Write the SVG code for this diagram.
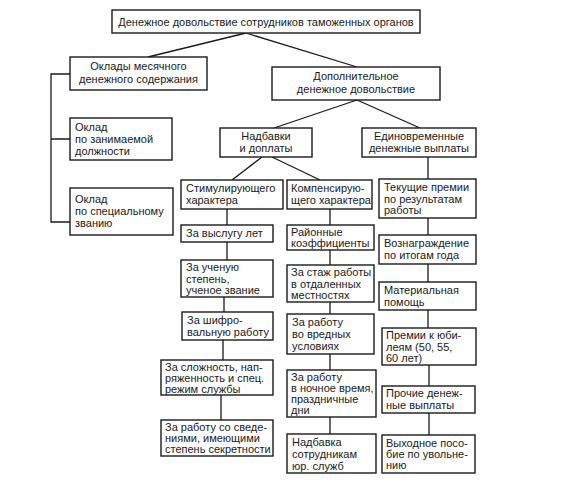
<svg xmlns="http://www.w3.org/2000/svg" width="567" height="481" viewBox="0 0 567 481">
<style>
rect{fill:#fff;stroke:#1a1a1a;stroke-width:1.4}
text{font-family:"Liberation Sans",Arial,sans-serif;font-size:11px;fill:#1a1a1a}
.c{text-anchor:middle}
#connectors path{fill:none;stroke:#1a1a1a;stroke-width:1.3}
</style>
<rect x="0" y="0" width="567" height="481" style="fill:#fff;stroke:none"/>
<g id="connectors">
<path d="M246,33 L148,57 M246,33 L357,67"/>
<path d="M357,100 L274,128 M357,100 L420,128"/>
<path d="M262,157 L232,180 M272,157 L320,180"/>
<path d="M70,74 H51 V222 H70 M51,139 H70"/>
<path d="M227,209 V225 M227,242 V260 M224,297 V312 M223,340 V360 M221,395 V420"/>
<path d="M330,209 V225 M330,250 V265 M330,302 V314 M330,354 V370 M330,417 V434"/>
<path d="M428,157 V179 M428,218 V235 M428,264 V282 M428,310 V328 M429,365 V386 M429,413 V435"/>
</g>
<g id="n-title"><rect x="112" y="10" width="308" height="23"/><text class="c" x="266" y="26">Денежное довольствие сотрудников таможенных органов</text></g>
<g id="n-oklady"><rect x="70" y="57" width="137" height="33"/><text class="c" x="138.5" y="70">Оклады месячного</text><text class="c" x="138.5" y="83">денежного содержания</text></g>
<g id="n-oklad1"><rect x="70" y="118" width="102" height="42"/><text x="75" y="131">Оклад</text><text x="75" y="143">по занимаемой</text><text x="75" y="155">должности</text></g>
<g id="n-oklad2"><rect x="70" y="188" width="103" height="47"/><text x="75" y="203">Оклад</text><text x="75" y="215">по специальному</text><text x="75" y="227">званию</text></g>
<g id="n-dop"><rect x="272" y="67" width="168" height="33"/><text class="c" x="356" y="80">Дополнительное</text><text class="c" x="356" y="93">денежное довольствие</text></g>
<g id="n-nadb"><rect x="220" y="128" width="92" height="29"/><text class="c" x="266" y="140">Надбавки</text><text class="c" x="266" y="152">и доплаты</text></g>
<g id="n-edin"><rect x="362" y="128" width="114" height="29"/><text class="c" x="419" y="140">Единовременные</text><text class="c" x="419" y="152">денежные выплаты</text></g>
<g id="n-stim"><rect x="181" y="180" width="102" height="29"/><text x="186" y="192">Стимулирующего</text><text x="186" y="204">характера</text></g>
<g id="n-vysl"><rect x="181" y="225" width="92" height="17"/><text x="186" y="237">За выслугу лет</text></g>
<g id="n-uch"><rect x="181" y="260" width="92" height="37"/><text x="186" y="271">За ученую</text><text x="186" y="283">степень,</text><text x="186" y="294">ученое звание</text></g>
<g id="n-shifr"><rect x="182" y="312" width="91" height="28"/><text x="187" y="324">За шифро-</text><text x="187" y="336">вальную работу</text></g>
<g id="n-slozh"><rect x="161" y="360" width="112" height="35"/><text x="165" y="371">За сложность, нап-</text><text x="165" y="382">ряженность и спец.</text><text x="165" y="393">режим службы</text></g>
<g id="n-sved"><rect x="161" y="420" width="112" height="36"/><text x="165" y="431">За работу со сведе-</text><text x="165" y="442">ниями, имеющими</text><text x="165" y="453">степень секретности</text></g>
<g id="n-komp"><rect x="287" y="180" width="85" height="29"/><text x="291" y="192">Компенсирую-</text><text x="291" y="204">щего характера</text></g>
<g id="n-rai"><rect x="287" y="225" width="87" height="25"/><text x="291" y="236">Районные</text><text x="291" y="247">коэффициенты</text></g>
<g id="n-stazh"><rect x="287" y="265" width="87" height="37"/><text x="291" y="276">За стаж работы</text><text x="291" y="288">в отдаленных</text><text x="291" y="299">местностях</text></g>
<g id="n-vred"><rect x="287" y="314" width="87" height="40"/><text x="292" y="326">За работу</text><text x="292" y="338">во вредных</text><text x="292" y="350">условиях</text></g>
<g id="n-noch"><rect x="287" y="370" width="89" height="47"/><text x="291" y="381">За работу</text><text x="291" y="392">в ночное время,</text><text x="291" y="403">праздничные</text><text x="291" y="414">дни</text></g>
<g id="n-yur"><rect x="287" y="434" width="89" height="39"/><text x="292" y="446">Надбавка</text><text x="292" y="458">сотрудникам</text><text x="292" y="470">юр. служб</text></g>
<g id="n-tek"><rect x="379" y="179" width="97" height="39"/><text x="384" y="191">Текущие премии</text><text x="384" y="203">по результатам</text><text x="384" y="214">работы</text></g>
<g id="n-vozn"><rect x="379" y="235" width="97" height="29"/><text x="384" y="247">Вознаграждение</text><text x="384" y="259">по итогам года</text></g>
<g id="n-mat"><rect x="379" y="282" width="97" height="28"/><text x="384" y="294">Материальная</text><text x="384" y="306">помощь</text></g>
<g id="n-yub"><rect x="382" y="328" width="94" height="37"/><text x="386" y="339">Премии к юби-</text><text x="386" y="351">леям (50, 55,</text><text x="386" y="362">60 лет)</text></g>
<g id="n-proch"><rect x="382" y="386" width="93" height="27"/><text x="386" y="397">Прочие денеж-</text><text x="386" y="409">ные выплаты</text></g>
<g id="n-vykh"><rect x="382" y="435" width="93" height="38"/><text x="386" y="447">Выходное посо-</text><text x="386" y="458">бие по увольне-</text><text x="386" y="469">нию</text></g>
</svg>
